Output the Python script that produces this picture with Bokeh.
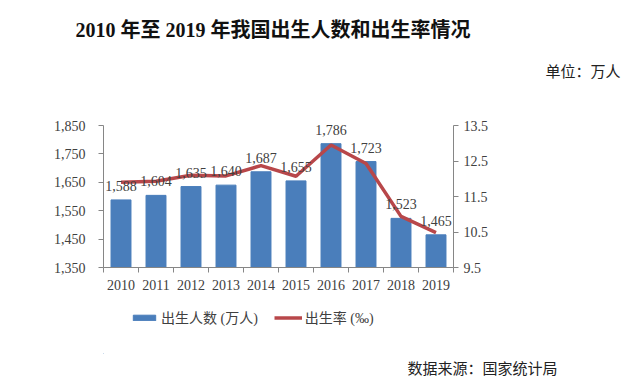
from bokeh.plotting import figure
from bokeh.models import (ColumnDataSource, LinearAxis, Range1d, FixedTicker, Title,
                          Legend, LegendItem, NumeralTickFormatter)
from bokeh.layouts import column
from bokeh.core.properties import value
from bokeh.embed import file_html
from bokeh.resources import INLINE

years = ["2010", "2011", "2012", "2013", "2014", "2015", "2016", "2017", "2018", "2019"]
births = [1588, 1604, 1635, 1640, 1687, 1655, 1786, 1723, 1523, 1465]
rates = [11.90, 11.93, 12.10, 12.08, 12.37, 12.07, 12.95, 12.43, 10.94, 10.48]
left_ticks = [1350, 1450, 1550, 1650, 1750, 1850]
right_ticks = [9.5, 10.5, 11.5, 12.5, 13.5]
series_names = ["出生人数 (万人)", "出生率 (‰)"]

SERIF = "'Liberation Serif', 'Noto Sans CJK SC'"
CJK = "'Noto Sans CJK SC'"
BLUE = "#4a7ebb"
RED = "#b8474a"
GRAY_TXT = "#404040"
AXIS = "#868686"

# the frame is a little taller than the axes so the top data label is not clipped
FRAME_H = 155
AXIS_PX = 142
l_lo, l_hi = left_ticks[0], left_ticks[-1]
r_lo, r_hi = right_ticks[0], right_ticks[-1]
l_top = l_lo + (l_hi - l_lo) * FRAME_H / AXIS_PX
r_top = r_lo + (r_hi - r_lo) * FRAME_H / AXIS_PX

xc = [i + 0.5 for i in range(len(years))]
src = ColumnDataSource(dict(x=xc, births=births, rate=rates,
                            lbl=[f"{v:,}" for v in births]))

p = figure(frame_width=350, frame_height=FRAME_H, output_backend="svg",
           toolbar_location=None,
           x_range=Range1d(0, len(years)), y_range=Range1d(l_lo, l_top),
           min_border_left=103, min_border_right=171, min_border_top=112,
           min_border_bottom=33, outline_line_color=None, background_fill_color="white",
           border_fill_color="white", y_axis_location=None, x_axis_location=None)
p.extra_y_ranges = {"rate": Range1d(r_lo, r_top)}
p.grid.visible = False

bars = p.vbar(x="x", top="births", bottom=l_lo, width=0.57, color=BLUE, source=src)
line = p.line(x="x", y="rate", y_range_name="rate", line_color=RED, line_width=3.5,
              source=src)
p.text(x="x", y="births", text="lbl", source=src, y_offset=-9,
       text_align="center", text_baseline="bottom", text_font=value(SERIF),
       text_font_size="14px", text_color=GRAY_TXT)

# x axis: labels at category centres, tick marks at category boundaries
xa = LinearAxis(ticker=FixedTicker(ticks=xc, minor_ticks=list(range(len(years) + 1))),
                major_label_overrides={x: y for x, y in zip(xc, years)})
xa.major_tick_out = 0
xa.major_tick_in = 0
xa.minor_tick_out = 5
xa.minor_tick_in = 0
xa.minor_tick_line_color = AXIS
xa.axis_line_color = AXIS
xa.major_label_text_font = SERIF
xa.major_label_text_font_size = "14px"
xa.major_label_text_color = GRAY_TXT
xa.major_label_standoff = 7
p.add_layout(xa, "below")

ya = LinearAxis(ticker=FixedTicker(ticks=left_ticks, minor_ticks=[]),
                formatter=NumeralTickFormatter(format="0,0"), bounds=(l_lo, l_hi))
ya.major_tick_out = 5
ya.major_tick_in = 0
ya.major_tick_line_color = AXIS
ya.axis_line_color = AXIS
ya.major_label_text_font = SERIF
ya.major_label_text_font_size = "14px"
ya.major_label_text_color = GRAY_TXT
ya.major_label_standoff = 13
p.add_layout(ya, "left")

ra = LinearAxis(y_range_name="rate", ticker=FixedTicker(ticks=right_ticks, minor_ticks=[]),
                formatter=NumeralTickFormatter(format="0.0"), bounds=(r_lo, r_hi))
ra.major_tick_out = 5
ra.major_tick_in = 0
ra.major_tick_line_color = AXIS
ra.axis_line_color = AXIS
ra.major_label_text_font = SERIF
ra.major_label_text_font_size = "14px"
ra.major_label_text_color = GRAY_TXT
ra.major_label_standoff = 5
p.add_layout(ra, "right")

# above panels: first added sits closest to the frame
p.add_layout(Title(text=" ", standoff=9, text_font=CJK, text_font_size="15px",
                   text_font_style="normal"), "above")
p.add_layout(Title(text="单位：万人", align="right", offset=-167, standoff=0,
                   text_font=CJK, text_font_size="15px", text_font_style="normal",
                   text_color="#222222"), "above")
p.add_layout(Title(text="2010 年至 2019 年我国出生人数和出生率情况", align="left",
                   offset=-28, standoff=33, text_font=SERIF, text_font_size="20px",
                   text_font_style="bold", text_color="#111111"), "above")

# footer figure: legend and source note
f = figure(width=624, height=78, output_backend="svg", toolbar_location=None,
           x_range=Range1d(0, 1), y_range=Range1d(0, 1),
           min_border_left=103, min_border_right=171, min_border_top=0,
           min_border_bottom=0, outline_line_color=None, background_fill_color="white",
           border_fill_color="white", x_axis_location=None, y_axis_location=None)
f.grid.visible = False
dummy = ColumnDataSource(dict(x=[-5], y=[-5]))
lb = f.vbar(x="x", top="y", width=0.5, color=BLUE, source=dummy)
ll = f.line(x="x", y="y", line_color=RED, line_width=3.5, source=dummy)
legend = Legend(items=[LegendItem(label=series_names[0], renderers=[lb]),
                       LegendItem(label=series_names[1], renderers=[ll])],
                orientation="horizontal", location=(27, 26), padding=0, margin=0,
                spacing=16, glyph_width=28, glyph_height=7, label_standoff=3,
                label_text_font=SERIF, label_text_font_size="14px",
                label_text_color=GRAY_TXT, background_fill_alpha=0,
                border_line_color=None)
f.add_layout(legend, "center")
f.add_layout(Title(text="数据来源：国家统计局", align="right", offset=-104, standoff=2,
                   text_font=CJK, text_font_size="15px", text_font_style="normal",
                   text_color="#222222"), "below")

open("out.html", "w").write(file_html(column(p, f, spacing=0), INLINE))
